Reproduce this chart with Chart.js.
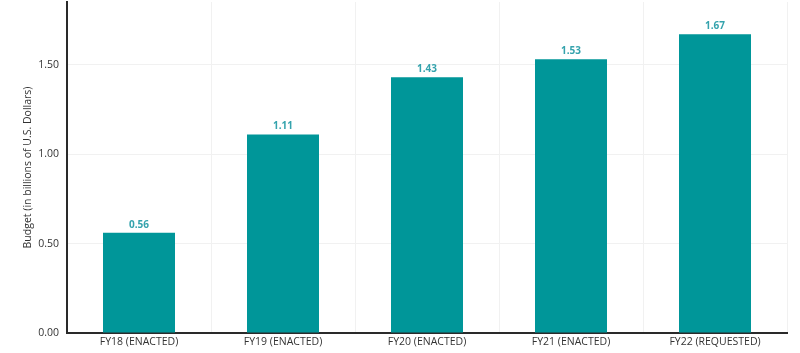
<!DOCTYPE html>
<html>
<head>
<meta charset="utf-8">
<script src="https://cdn.jsdelivr.net/npm/chart.js@4.4.0/dist/chart.umd.min.js"></script>
<style>
  html, body { margin: 0; padding: 0; background: #ffffff; }
  #wrap { width: 800px; height: 353px; position: relative; }
</style>
</head>
<body>
<div id="wrap"><canvas id="c" width="800" height="353"></canvas></div>
<script>
const categories = ["FY18 (ENACTED)", "FY19 (ENACTED)", "FY20 (ENACTED)", "FY21 (ENACTED)", "FY22 (REQUESTED)"];
const budget = [0.56, 1.11, 1.43, 1.53, 1.67];
const yTicks = [0, 0.5, 1.0, 1.5];

const FONT = "'Open Sans', 'Liberation Sans', sans-serif";

const labelPlugin = {
  id: 'barLabels',
  afterDatasetsDraw(chart) {
    const ctx = chart.ctx;
    const meta = chart.getDatasetMeta(0);
    ctx.save();
    ctx.fillStyle = '#35a3ad';
    ctx.font = "bold 10px " + FONT;
    ctx.textAlign = 'center';
    ctx.textBaseline = 'bottom';
    meta.data.forEach((bar, i) => {
      ctx.fillText(budget[i].toFixed(2), bar.x, bar.y - 3);
    });
    ctx.restore();
  }
};

new Chart(document.getElementById('c'), {
  type: 'bar',
  data: {
    labels: categories,
    datasets: [{
      data: budget,
      backgroundColor: '#009699',
      borderWidth: 0,
      barPercentage: 0.5,
      categoryPercentage: 1.0
    }]
  },
  options: {
    responsive: false,
    animation: false,
    layout: { padding: { top: 2, right: 13, bottom: 0, left: 22 } },
    plugins: { legend: { display: false }, tooltip: { enabled: false } },
    scales: {
      x: {
        grid: { color: '#f1f1f1', lineWidth: 1, drawTicks: false, offset: true },
        border: { color: '#2a2a2a', width: 2 },
        ticks: { color: '#333333', font: { family: FONT, size: 10.5 }, padding: 3, maxRotation: 0 },
        afterFit(s) { s.height = 20; s.paddingLeft = 0; s.paddingRight = 0; }
      },
      y: {
        min: 0,
        max: 1.85,
        afterBuildTicks(s) { s.ticks = yTicks.map(v => ({ value: v })); },
        grid: { color: '#f1f1f1', lineWidth: 1, drawTicks: false },
        border: { color: '#2a2a2a', width: 2 },
        ticks: {
          color: '#333333',
          font: { family: FONT, size: 10.5 },
          padding: 8,
          callback: v => Number(v).toFixed(2)
        },
        title: {
          display: true,
          text: 'Budget (in billions of U.S. Dollars)',
          color: '#333333',
          font: { family: FONT, size: 10.5 },
          padding: { top: 0, bottom: 2 }
        },
        afterFit(s) { s.width = 45; s.paddingTop = 0; s.paddingBottom = 0; }
      }
    }
  },
  plugins: [labelPlugin]
});
</script>
</body>
</html>
